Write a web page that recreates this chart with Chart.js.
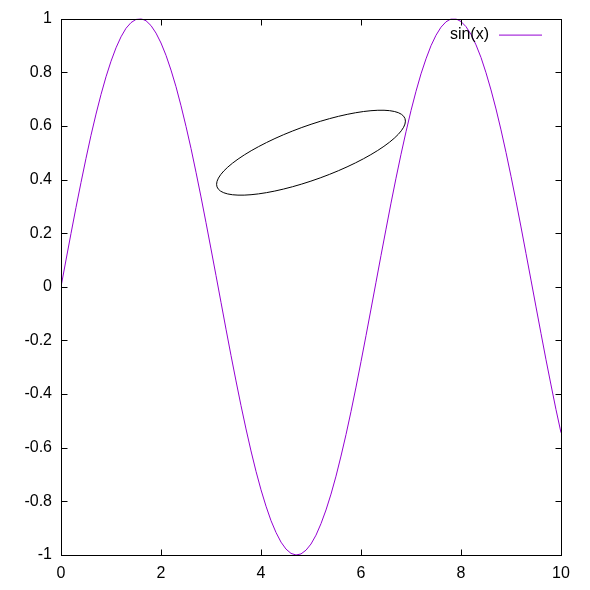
<!DOCTYPE html>
<html>
<head>
<meta charset="utf-8">
<script src="https://cdn.jsdelivr.net/npm/chart.js@4/dist/chart.umd.min.js"></script>
<style>
  html, body { margin: 0; padding: 0; background: #fff; }
  canvas { display: block; }
</style>
</head>
<body>
<canvas id="sinChart" width="590" height="590"></canvas>
<script>
const xValues = [
    0.0, 0.1, 0.2, 0.3, 0.4, 0.5, 0.6, 0.7, 0.8, 0.9,
    1.0, 1.1, 1.2, 1.3, 1.4, 1.5, 1.6, 1.7, 1.8, 1.9,
    2.0, 2.1, 2.2, 2.3, 2.4, 2.5, 2.6, 2.7, 2.8, 2.9,
    3.0, 3.1, 3.2, 3.3, 3.4, 3.5, 3.6, 3.7, 3.8, 3.9,
    4.0, 4.1, 4.2, 4.3, 4.4, 4.5, 4.6, 4.7, 4.8, 4.9,
    5.0, 5.1, 5.2, 5.3, 5.4, 5.5, 5.6, 5.7, 5.8, 5.9,
    6.0, 6.1, 6.2, 6.3, 6.4, 6.5, 6.6, 6.7, 6.8, 6.9,
    7.0, 7.1, 7.2, 7.3, 7.4, 7.5, 7.6, 7.7, 7.8, 7.9,
    8.0, 8.1, 8.2, 8.3, 8.4, 8.5, 8.6, 8.7, 8.8, 8.9,
    9.0, 9.1, 9.2, 9.3, 9.4, 9.5, 9.6, 9.7, 9.8, 9.9,
    10.0
];
const sinValues = [
    0.000, 0.100, 0.199, 0.296, 0.389, 0.479, 0.565, 0.644, 0.717, 0.783,
    0.841, 0.891, 0.932, 0.964, 0.985, 0.997, 1.000, 0.992, 0.974, 0.946,
    0.909, 0.863, 0.808, 0.746, 0.675, 0.598, 0.516, 0.427, 0.335, 0.239,
    0.141, 0.042, -0.058, -0.158, -0.256, -0.351, -0.443, -0.530, -0.612, -0.688,
    -0.757, -0.818, -0.872, -0.916, -0.952, -0.978, -0.994, -1.000, -0.996, -0.982,
    -0.959, -0.926, -0.883, -0.832, -0.773, -0.706, -0.631, -0.551, -0.465, -0.374,
    -0.279, -0.182, -0.083, 0.017, 0.117, 0.215, 0.312, 0.405, 0.494, 0.578,
    0.657, 0.729, 0.794, 0.850, 0.899, 0.938, 0.968, 0.988, 0.999, 0.999,
    0.989, 0.970, 0.941, 0.902, 0.855, 0.798, 0.734, 0.663, 0.585, 0.501,
    0.412, 0.319, 0.223, 0.124, 0.025, -0.075, -0.174, -0.272, -0.366, -0.458,
    -0.544
];
const seriesLabel = 'sin(x)';

// ellipse object: center and axes in data units, angle in degrees
const ellipseCenter = [5, 0.5];
const ellipseSize = [4, 0.2];
const ellipseAngle = 20;

const FONT = '"Liberation Sans", Arial, sans-serif';
const LINE_COLOR = '#9400d3';
const TICK_LEN = 6;

const framePlugin = {
    id: 'frame',
    afterDatasetsDraw(chart) {
        const ctx = chart.ctx;
        const area = chart.chartArea;
        const xs = chart.scales.x;
        const ys = chart.scales.y;

        ctx.save();
        ctx.strokeStyle = '#000';
        ctx.lineWidth = 1;

        // ellipse
        const cx = xs.getPixelForValue(ellipseCenter[0]);
        const cy = ys.getPixelForValue(ellipseCenter[1]);
        const rx = Math.abs(xs.getPixelForValue(ellipseSize[0]) - xs.getPixelForValue(0)) / 2;
        const ry = Math.abs(ys.getPixelForValue(ellipseSize[1]) - ys.getPixelForValue(0)) / 2;
        ctx.beginPath();
        ctx.ellipse(cx, cy, rx, ry, -ellipseAngle * Math.PI / 180, 0, Math.PI * 2);
        ctx.stroke();

        // border
        const l = Math.round(area.left) + 0.5, r = Math.round(area.right) + 0.5;
        const t = Math.round(area.top) + 0.5, b = Math.round(area.bottom) + 0.5;
        ctx.strokeRect(l, t, r - l, b - t);

        // inward ticks, mirrored
        ctx.beginPath();
        xs.ticks.forEach(tk => {
            const px = Math.round(xs.getPixelForValue(tk.value)) + 0.5;
            ctx.moveTo(px, b); ctx.lineTo(px, b - TICK_LEN);
            ctx.moveTo(px, t); ctx.lineTo(px, t + TICK_LEN);
        });
        ys.ticks.forEach(tk => {
            const py = Math.round(ys.getPixelForValue(tk.value)) + 0.5;
            ctx.moveTo(l, py); ctx.lineTo(l + TICK_LEN, py);
            ctx.moveTo(r, py); ctx.lineTo(r - TICK_LEN, py);
        });
        ctx.stroke();

        // key, top right inside the plot
        const ds = chart.data.datasets[0];
        const keyY = area.top + 16;
        ctx.font = '16px ' + FONT;
        ctx.fillStyle = '#000';
        ctx.textAlign = 'right';
        ctx.textBaseline = 'middle';
        ctx.fillText(ds.label, area.right - 72, keyY);
        ctx.strokeStyle = ds.borderColor;
        ctx.beginPath();
        ctx.moveTo(area.right - 62, keyY + 0.5);
        ctx.lineTo(area.right - 19, keyY + 0.5);
        ctx.stroke();
        ctx.restore();
    }
};

document.addEventListener('DOMContentLoaded', function() {
    const ctx = document.getElementById('sinChart').getContext('2d');
    const points = xValues.map((x, i) => ({ x: x, y: sinValues[i] }));

    new Chart(ctx, {
        type: 'line',
        data: {
            datasets: [{
                label: seriesLabel,
                data: points,
                borderColor: LINE_COLOR,
                borderWidth: 1,
                pointRadius: 0,
                tension: 0,
                fill: false
            }]
        },
        options: {
            responsive: false,
            animation: false,
            layout: { padding: { left: 0, top: 17, right: 29, bottom: 0 } },
            plugins: {
                legend: { display: false },
                tooltip: { enabled: false }
            },
            scales: {
                x: {
                    type: 'linear',
                    min: 0,
                    max: 10,
                    border: { display: false },
                    grid: { display: false, drawTicks: false },
                    ticks: {
                        stepSize: 2,
                        padding: 9,
                        color: '#000',
                        font: { family: FONT, size: 16 },
                        maxRotation: 0
                    },
                    afterFit: s => { s.height = 35; }
                },
                y: {
                    min: -1,
                    max: 1,
                    border: { display: false },
                    grid: { display: false, drawTicks: false },
                    ticks: {
                        stepSize: 0.2,
                        padding: 9,
                        color: '#000',
                        font: { family: FONT, size: 16 },
                        callback: v => Math.abs(v) < 1e-9 ? '0' : String(Math.round(v * 10) / 10)
                    },
                    afterFit: s => { s.width = 61; }
                }
            }
        },
        plugins: [framePlugin]
    });
});
</script>
</body>
</html>
